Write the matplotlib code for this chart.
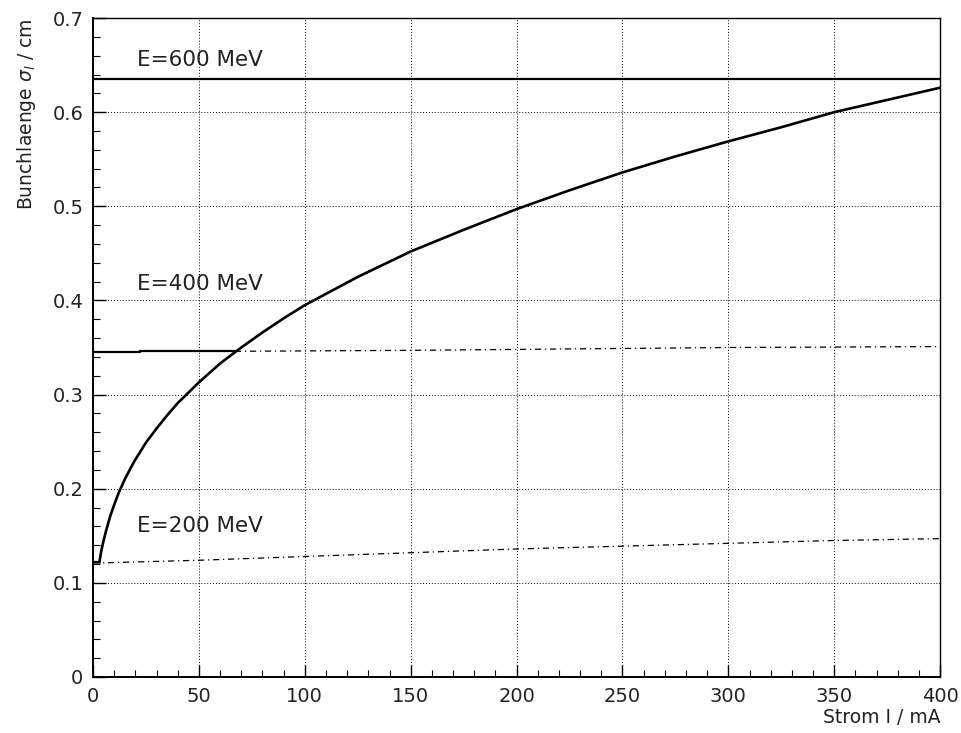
import matplotlib
matplotlib.use("Agg")
import matplotlib.pyplot as plt
from matplotlib.ticker import MultipleLocator

# Bunch length vs. beam current
# turbulent lengthening (solid, rises with current)
i_turb = [3, 4, 5, 6, 8, 10, 12, 15, 18, 20, 25, 30, 35, 40, 45, 50, 55,
          60, 67, 70, 80, 90, 100, 110, 125, 150, 175, 200, 225, 250, 275,
          300, 325, 350, 375, 400]
s_turb = [0.122, 0.135, 0.145, 0.154, 0.170, 0.183, 0.195, 0.210, 0.223,
          0.231, 0.249, 0.264, 0.278, 0.291, 0.302, 0.313, 0.323, 0.333,
          0.345, 0.350, 0.366, 0.381, 0.395, 0.407, 0.425, 0.452, 0.475,
          0.497, 0.517, 0.536, 0.553, 0.569, 0.584, 0.600, 0.613, 0.626]

# natural bunch length per energy
i_600 = [0, 400]
s_600 = [0.635, 0.635]

i_400_solid = [0, 22, 22, 67]
s_400_solid = [0.345, 0.345, 0.346, 0.346]
i_400_dash = [67, 150, 200, 300, 400]
s_400_dash = [0.346, 0.347, 0.348, 0.350, 0.351]

i_200_solid = [0, 3]
s_200_solid = [0.122, 0.122]
i_200_dash = [0, 50, 100, 150, 200, 250, 300, 350, 400]
s_200_dash = [0.121, 0.124, 0.128, 0.132, 0.136, 0.139, 0.142, 0.145, 0.147]

labels = ["E=600 MeV", "E=400 MeV", "E=200 MeV"]
label_y = [0.655, 0.418, 0.160]

fig = plt.figure(figsize=(9.61, 7.33), dpi=100)
ax = fig.add_axes([0.0968, 0.0764, 0.8815, 0.899])

dashdot = (0, (5, 3, 1, 3))
ax.plot(i_turb, s_turb, color="black", lw=1.9, solid_joinstyle="round")
ax.plot(i_600, s_600, color="black", lw=1.6)
ax.plot(i_400_solid, s_400_solid, color="black", lw=1.6)
ax.plot(i_400_dash, s_400_dash, color="black", lw=0.9, linestyle=dashdot)
ax.plot(i_200_solid, s_200_solid, color="black", lw=1.6)
ax.plot(i_200_dash, s_200_dash, color="black", lw=0.9, linestyle=dashdot)

for txt, y in zip(labels, label_y):
    ax.text(20.8, y, txt, fontsize=15.5, color="#222222", va="center",
            ha="left")

ax.set_xlim(0, 400)
ax.set_ylim(0, 0.7)
ax.xaxis.set_major_locator(MultipleLocator(50))
ax.xaxis.set_minor_locator(MultipleLocator(10))
ax.yaxis.set_minor_locator(MultipleLocator(0.02))
ax.set_yticks([0, 0.1, 0.2, 0.3, 0.4, 0.5, 0.6, 0.7])
ax.set_yticklabels(["0", "0.1", "0.2", "0.3", "0.4", "0.5", "0.6", "0.7"])

ax.tick_params(which="both", direction="in", top=False, right=False,
               labelsize=14, labelcolor="#222222", pad=7)
ax.tick_params(which="major", length=9, width=1.0)
ax.tick_params(which="minor", length=5, width=0.8)

ax.grid(True, which="major", linestyle=(0, (1, 2)), color="black", lw=0.7)
ax.spines["left"].set_linewidth(1.4)
ax.spines["bottom"].set_linewidth(1.4)
ax.spines["top"].set_linewidth(1.0)
ax.spines["right"].set_linewidth(1.0)

ax.set_xlabel("Strom I / mA", fontsize=13.5, color="#222222", loc="right",
              labelpad=2)
ax.set_ylabel(r"Bunchlaenge $\sigma_l$ / cm", fontsize=13.5, color="#222222",
              loc="top", labelpad=10)

fig.savefig("out.png", dpi=100)
